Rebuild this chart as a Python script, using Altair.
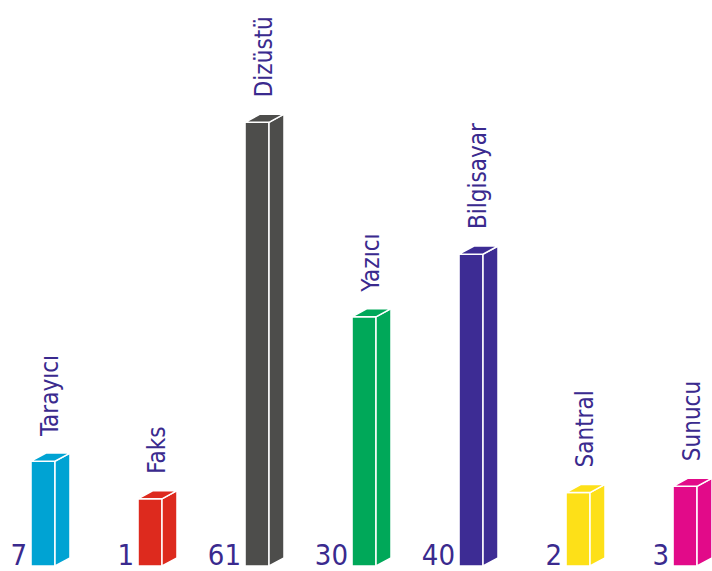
import altair as alt
import pandas as pd

# ---- data ----
categories = ["Tarayıcı", "Faks", "Dizüstü", "Yazıcı", "Bilgisayar", "Santral", "Sunucu"]
values = [7, 1, 61, 30, 40, 2, 3]
colors = ["#00A3D3", "#DD2A1E", "#4D4D4B", "#00A859", "#3D2C94", "#FDE018", "#E20A89"]

TEXT_COLOR = "#3A2A8E"
FONT = "Liberation Sans Narrow, DejaVu Sans Condensed, Roboto Condensed, sans-serif"

# ---- geometry in data units ----
X_MIN, X_MAX = -0.29, 6.364      # slot units
Y_MIN, Y_MAX = -10.5, 80.5       # value units
BASE = -9.7                      # visual baseline of the bars
FRONT_W = 0.224                  # width of front face (slot units)
DX = 0.14                        # depth, horizontal (slot units)
DY = 1.3                         # depth, vertical (value units)
LABEL_GAP = 4.0                  # gap above bar top for category labels

xs = alt.Scale(domain=[X_MIN, X_MAX], range=[0, 712], nice=False, zero=False)
ys = alt.Scale(domain=[Y_MIN, Y_MAX], range=[571, 0], nice=False, zero=False)
cs = alt.Scale(domain=categories, range=colors)

idx = list(range(len(categories)))
bars = pd.DataFrame({"cat": categories, "value": values, "i": idx})
bars["x0"] = bars["i"]
bars["x1"] = bars["i"] + FRONT_W
bars["base"] = BASE
bars["bottom"] = Y_MIN
bars["lx"] = bars["i"] + (FRONT_W + DX) / 2
bars["ly"] = bars["value"] + LABEL_GAP

side_rows, top_rows = [], []
for c, v, i in zip(categories, values, idx):
    x1 = i + FRONT_W
    side_rows.append({"cat": c, "sx": x1, "sy": v, "sy2": BASE})
    side_rows.append({"cat": c, "sx": x1 + DX, "sy": v + DY, "sy2": BASE + DY})
    top_rows.append({"cat": c, "ty": v, "tx": i, "tx2": x1})
    top_rows.append({"cat": c, "ty": v + DY, "tx": i + DX, "tx2": x1 + DX})
side = pd.DataFrame(side_rows)
top = pd.DataFrame(top_rows)

color_enc = alt.Color("cat:N", scale=cs, legend=None)

front = alt.Chart(bars).mark_rect(stroke="white", strokeWidth=1.5).encode(
    x=alt.X("x0:Q", scale=xs, axis=None),
    x2="x1:Q",
    y=alt.Y("value:Q", scale=ys, axis=None),
    y2="base:Q",
    color=color_enc,
)

side_face = alt.Chart(side).mark_area(orient="vertical", stroke="white", strokeWidth=1.5).encode(
    x=alt.X("sx:Q", scale=xs, axis=None),
    y=alt.Y("sy:Q", scale=ys, axis=None),
    y2="sy2:Q",
    color=color_enc,
    detail="cat:N",
)

top_face = alt.Chart(top).mark_area(orient="horizontal", stroke="white", strokeWidth=1.5).encode(
    y=alt.Y("ty:Q", scale=ys, axis=None),
    x=alt.X("tx:Q", scale=xs, axis=None),
    x2="tx2:Q",
    color=color_enc,
    detail="cat:N",
)

cat_labels = alt.Chart(bars).mark_text(
    angle=270, align="left", baseline="middle", font=FONT, fontSize=24, color=TEXT_COLOR
).encode(
    x=alt.X("lx:Q", scale=xs, axis=None),
    y=alt.Y("ly:Q", scale=ys, axis=None),
    text="cat:N",
)

val_labels = alt.Chart(bars).mark_text(
    align="right", baseline="bottom", dx=-4, font=FONT, fontSize=29, color=TEXT_COLOR
).encode(
    x=alt.X("x0:Q", scale=xs, axis=None),
    y=alt.Y("bottom:Q", scale=ys, axis=None),
    text="value:Q",
)

chart = alt.layer(front, side_face, top_face, cat_labels, val_labels).properties(
    width=712, height=571, autosize=alt.AutoSizeParams(type="none"), padding=0,
    background="white",
).configure_view(stroke=None)

chart.save("out.html", embed_options={"renderer": "svg", "actions": False})
